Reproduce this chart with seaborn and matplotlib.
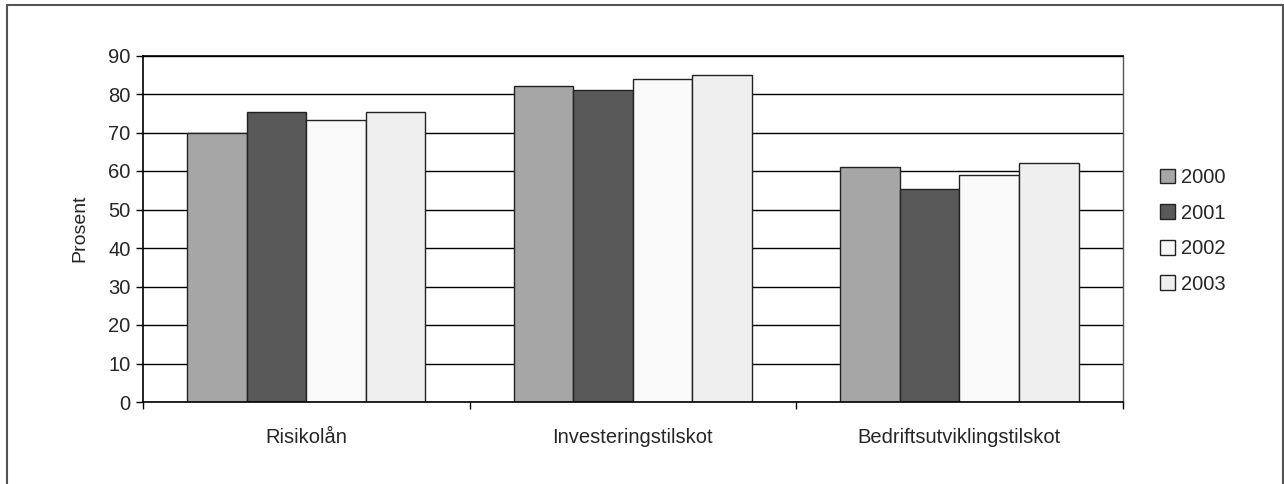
import matplotlib
matplotlib.use("Agg")
import matplotlib.pyplot as plt
import seaborn as sns
import pandas as pd
from matplotlib.patches import Rectangle

categories = ["Risikolån", "Investeringstilskot", "Bedriftsutviklingstilskot"]
years = ["2000", "2001", "2002", "2003"]
v2000 = [70, 82, 61]
v2001 = [75.3, 81, 55.2]
v2002 = [73.2, 84, 58.9]
v2003 = [75.3, 85, 62]
colors = ["#a6a6a6", "#595959", "#f9f9f9", "#efefef"]

rows = []
for yr, vals in zip(years, [v2000, v2001, v2002, v2003]):
    for c, v in zip(categories, vals):
        rows.append({"Kategori": c, "År": yr, "Prosent": v})
df = pd.DataFrame(rows)

sns.set_theme(style="white")
plt.rcParams["font.family"] = ["Liberation Sans", "DejaVu Sans"]

fig = plt.figure(figsize=(12.84, 4.84), dpi=100)
ax = fig.add_axes([143 / 1284, 1 - 402 / 484, (1122.7 - 143) / 1284, (402 - 55.5) / 484])

sns.barplot(data=df, x="Kategori", y="Prosent", hue="År", order=categories,
            hue_order=years, palette=colors, width=0.73, gap=0,
            edgecolor="#222222", linewidth=1.0, ax=ax, legend=False, errorbar=None,
            saturation=1)

ax.set_ylim(0, 90)
ax.set_xlim(-0.5, 2.5)
ax.set_yticks(range(0, 91, 10))
ax.yaxis.grid(True, color="black", linewidth=1)
ax.set_axisbelow(True)
ax.set_xlabel("")
ax.set_ylabel("Prosent", fontsize=14, labelpad=14)

for s in ["left", "bottom", "top"]:
    ax.spines[s].set_visible(True)
    ax.spines[s].set_color("black")
    ax.spines[s].set_linewidth(1.2)
ax.spines["right"].set_visible(True)
ax.spines["right"].set_color("#555555")
ax.spines["right"].set_linewidth(1.0)

ax.tick_params(axis="y", which="major", left=True, length=5, width=1, color="black",
               labelsize=14.5, pad=4, direction="out")
ax.tick_params(axis="x", which="major", bottom=False, labelsize=14.5, pad=13)
ax.set_xticks([-0.5, 0.5, 1.5, 2.5], minor=True)
ax.tick_params(axis="x", which="minor", bottom=True, length=5, width=1, color="black",
               direction="out")

handles = [Rectangle((0, 0), 1, 1, facecolor=c, edgecolor="#222222", linewidth=1)
           for c in colors]
fig.legend(handles, years, loc="upper left", bbox_to_anchor=(1142 / 1284, 1 - 150 / 484),
           frameon=False, fontsize=14.5, handlelength=0.75, handleheight=0.75,
           handletextpad=0.3, labelspacing=0.82)

border = Rectangle((7 / 1284, -0.1), (1283 - 7) / 1284, 1 - 5 / 484 + 0.1,
                   transform=fig.transFigure, fill=False, edgecolor="#555555",
                   linewidth=1.5, clip_on=False)
fig.patches.append(border)

fig.savefig("out.png", dpi=100)
